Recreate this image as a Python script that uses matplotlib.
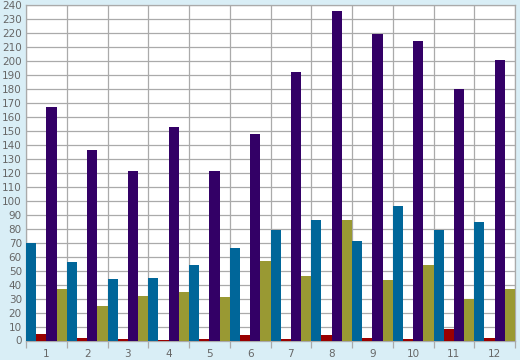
import matplotlib.pyplot as plt
import numpy as np

months = ['1', '2', '3', '4', '5', '6', '7', '8', '9', '10', '11', '12']
blue_vals = [70, 56, 44, 45, 54, 66, 79, 86, 71, 96, 79, 85]
red_vals = [5, 2, 1, 0.5, 1, 4, 1, 4, 2, 1, 8, 2]
purple_vals = [167, 136, 121, 153, 121, 148, 192, 236, 219, 214, 180, 201]
olive_vals = [37, 25, 32, 35, 31, 57, 46, 86, 43, 54, 30, 37]

bg = '#d9eef6'
grid_c = '#aaaaaa'
text_c = '#666666'

fig = plt.figure(figsize=(5.2, 3.6), dpi=100, facecolor=bg)
ax = fig.add_axes([26 / 520, 19.5 / 360, 489 / 520, 335.5 / 360])
ax.set_facecolor('white')

x = np.arange(len(months))
w = 0.25
series = [(blue_vals, '#006699'), (red_vals, '#990000'),
          (purple_vals, '#330066'), (olive_vals, '#999933')]
for k, (vals, col) in enumerate(series):
    ax.bar(x - 0.375 + k * w, vals, width=w, color=col, linewidth=0, zorder=3)

ax.set_xlim(-0.5, len(months) - 0.5)
ax.set_ylim(0, 240)
ax.set_yticks(range(0, 241, 10))
ax.tick_params(axis='y', length=0, pad=3, labelsize=7.5, labelcolor=text_c)

# boundaries get gridlines + tick marks, centers get labels
ax.set_xticks(np.arange(-0.5, len(months), 1.0))
ax.set_xticklabels([])
ax.set_xticks(x, minor=True)
ax.set_xticklabels(months, minor=True)
ax.tick_params(axis='x', which='major', length=5, color=grid_c, width=0.9)
ax.tick_params(axis='x', which='minor', length=0, pad=6, labelsize=7.5, labelcolor=text_c)

ax.grid(True, which='major', color=grid_c, linewidth=0.9, zorder=0)
for s in ax.spines.values():
    s.set_color(grid_c)
    s.set_linewidth(0.9)

fig.savefig('out.png', dpi=100, facecolor=bg)
